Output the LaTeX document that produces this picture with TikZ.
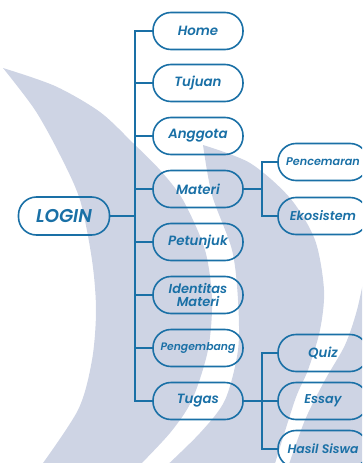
\documentclass[tikz,border=0pt]{standalone}
\usepackage{fontspec}
\setmainfont{Poppins}[BoldFont={* SemiBold}, BoldItalicFont={* SemiBold Italic}]
\definecolor{wm}{RGB}{206,212,228}
\definecolor{tb}{RGB}{26,112,166}
\begin{document}
\begin{tikzpicture}[x=1pt,y=-1pt,
  box/.style={draw=tb, line width=1.6pt, rounded corners=18pt,
    minimum width=90pt, minimum height=37pt, inner sep=0pt, text=tb,
    font=\bfseries\itshape\fontsize{13.4}{13.4}\selectfont, align=center},
  conn/.style={draw=tb, line width=1.6pt}]
\useasboundingbox (0,0) rectangle (362,463);
\clip (0,0) rectangle (362,463);
% watermark
\fill[wm] plot[smooth] coordinates {(3,68) (55,86) (100,112) (133,143) (160,170) (183,200) (205,250) (212,300) (208,350) (192,400) (170,433) (135,470)}
  -- plot[smooth] coordinates {(38,470) (78,410) (92,360) (96,310) (92,260) (80,200) (60,155) (35,110) (3,68)} -- cycle;
\fill[wm] plot[smooth] coordinates {(203,145) (250,163) (290,198) (315,240) (324,290) (320,330) (308,370) (295,400) (273,470)}
  -- plot[smooth] coordinates {(162,470) (200,433) (225,400) (238,350) (238,300) (232,250) (212,195) (203,145)} -- cycle;
\fill[wm] plot[smooth] coordinates {(366,268) (357,310) (345,345) (325,380) (305,420) (287,470)} -- (370,470) -- cycle;
% nodes
\node[box] (home) at (198,31) {Home};
\node[box] (tujuan) at (198,83) {Tujuan};
\node[box] (anggota) at (198,136) {Anggota};
\node[box] (materi) at (198,189) {Materi};
\node[box] (petunjuk) at (198,242) {Petunjuk};
\node[box, font=\bfseries\itshape\fontsize{13}{12.5}\selectfont] (identitas) at (198,295) {Identitas\\Materi};
\node[box, font=\bfseries\itshape\fontsize{10.8}{12}\selectfont] (pengembang) at (198,348) {Pengembang};
\node[box] (tugas) at (198,401) {Tugas};
\node[box, minimum width=91pt, minimum height=38pt, font=\bfseries\itshape\fontsize{18.5}{18.5}\selectfont] (login) at (64,216) {LOGIN};
\node[box, font=\bfseries\itshape\fontsize{11.2}{12}\selectfont] (pencemaran) at (323,162) {Pencemaran};
\node[box, font=\bfseries\itshape\fontsize{12.8}{13}\selectfont] (ekosistem) at (323,216) {Ekosistem};
\node[box] (quiz) at (323,353) {Quiz};
\node[box, font=\bfseries\itshape\fontsize{12.8}{13}\selectfont] (essay) at (323,401) {Essay};
\node[box, font=\bfseries\itshape\fontsize{12.4}{13}\selectfont] (hasil) at (323,449) {Hasil Siswa};
% connectors
\coordinate (t) at (135,216);
\foreach \c in {home,tujuan,anggota,materi,petunjuk,identitas,pengembang,tugas}
  \draw[conn] (login.east) -- (t) |- (\c.west);
\coordinate (m) at (262,189);
\draw[conn] (materi.east) -- (m) |- (pencemaran.west);
\draw[conn] (materi.east) -- (m) |- (ekosistem.west);
\coordinate (g) at (262,401);
\draw[conn] (tugas.east) -- (g) |- (quiz.west);
\draw[conn] (tugas.east) -- (essay.west);
\draw[conn] (tugas.east) -- (g) |- (hasil.west);
\end{tikzpicture}
\end{document}
